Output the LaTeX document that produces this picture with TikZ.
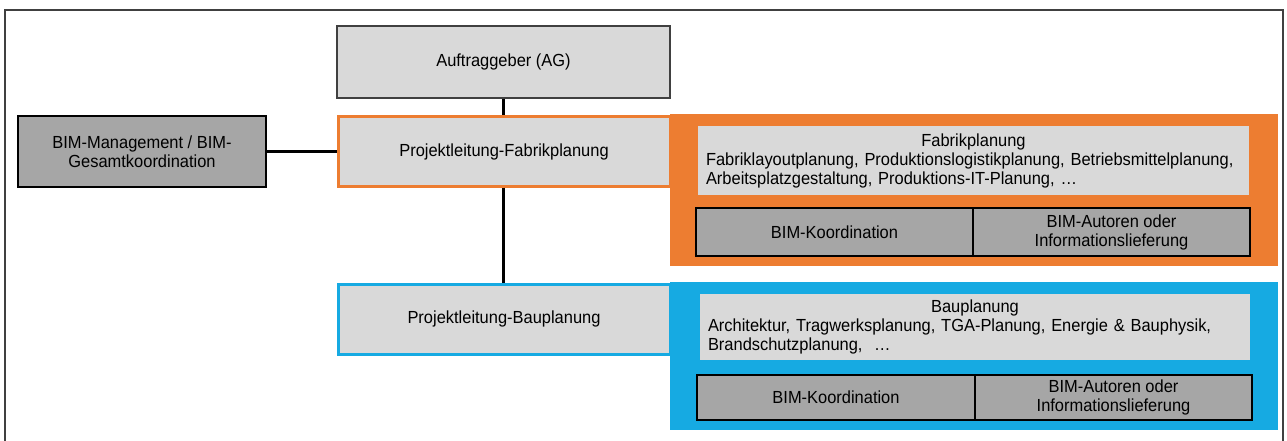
\documentclass[tikz,border=0pt]{standalone}
\usepackage{fontspec}
\setmainfont[FakeStretch=0.94]{Liberation Sans}
\definecolor{lgray}{HTML}{D9D9D9}
\definecolor{dgray}{HTML}{A6A6A6}
\definecolor{borange}{HTML}{ED7D31}
\definecolor{bblue}{HTML}{16AAE2}
\definecolor{frame}{HTML}{404040}
\tikzset{
  txt/.style={font=\fontsize{17.5}{19}\selectfont, inner sep=0pt, align=center},
  lbox/.style={txt, fill=lgray, draw=frame, line width=1.2pt},
  dbox/.style={txt, fill=dgray, draw=black, line width=1.2pt},
  plbox/.style={txt, fill=lgray, line width=3pt},
  infobox/.style={txt, fill=lgray, draw=none, align=left, inner xsep=8pt},
  conn/.style={draw=black, line width=2.6pt},
}
\begin{document}
\begin{tikzpicture}[x=1pt,y=-1pt]
\useasboundingbox (0,0) rectangle (1287,441);
\fill[white] (0,0) rectangle (1287,441);
\draw[frame, line width=2pt] (5,445) -- (5,10) -- (1283,10) -- (1283,445);
% coloured areas
\fill[borange] (670,114) rectangle (1278,266);
\fill[bblue] (670,282) rectangle (1278,430);
% left column
\node[lbox, minimum width=333pt, minimum height=72pt] (ag) at (503.5,62) {\raisebox{-1pt}{Auftraggeber (AG)}};
\node[dbox, minimum width=248pt, minimum height=71pt] (bim) at (142,151.5) {BIM-Management / BIM-\\Gesamtkoordination};
\node[plbox, draw=borange, minimum width=332pt, minimum height=69pt] (plf) at (504,151.5) {\raisebox{-1pt}{Projektleitung-Fabrikplanung}};
\node[plbox, draw=bblue, minimum width=332pt, minimum height=70pt] (plb) at (504,319) {\raisebox{-1pt}{Projektleitung-Bauplanung}};
% connectors
\draw[conn] (ag.south) -- (ag.south |- plf.north);
\draw[conn] (bim.east) -- (plf.west);
\draw[conn] (plf.south -| ag.south) -- (plb.north -| ag.south);
% Fabrikplanung
\node[infobox, text width=535pt, minimum height=69pt] (fp) at (973.5,160.5) {\makebox[535pt]{Fabrikplanung}\\Fabriklayoutplanung, Produktionslogistikplanung, Betriebsmittelplanung,\\Arbeitsplatzgestaltung, Produktions-IT-Planung, \dots};
\node[dbox, minimum width=277pt, minimum height=48pt] (bk1) at (834.5,232) {BIM-Koordination};
\node[dbox, minimum width=277pt, minimum height=48pt] (ba1) at (1111.5,232) {BIM-Autoren oder\\Informationslieferung};
% Bauplanung
\node[infobox, text width=534pt, minimum height=66pt] (bp) at (975,327) {\makebox[534pt]{Bauplanung}\\Architektur, Tragwerksplanung, TGA-Planung,\ Energie \& Bauphysik,\\Brandschutzplanung, \ \dots};
\node[dbox, minimum width=278pt, minimum height=45pt] (bk2) at (836,397.5) {BIM-Koordination};
\node[dbox, minimum width=277pt, minimum height=45pt] (ba2) at (1113.5,397.5) {BIM-Autoren oder\\Informationslieferung};
\end{tikzpicture}
\end{document}
